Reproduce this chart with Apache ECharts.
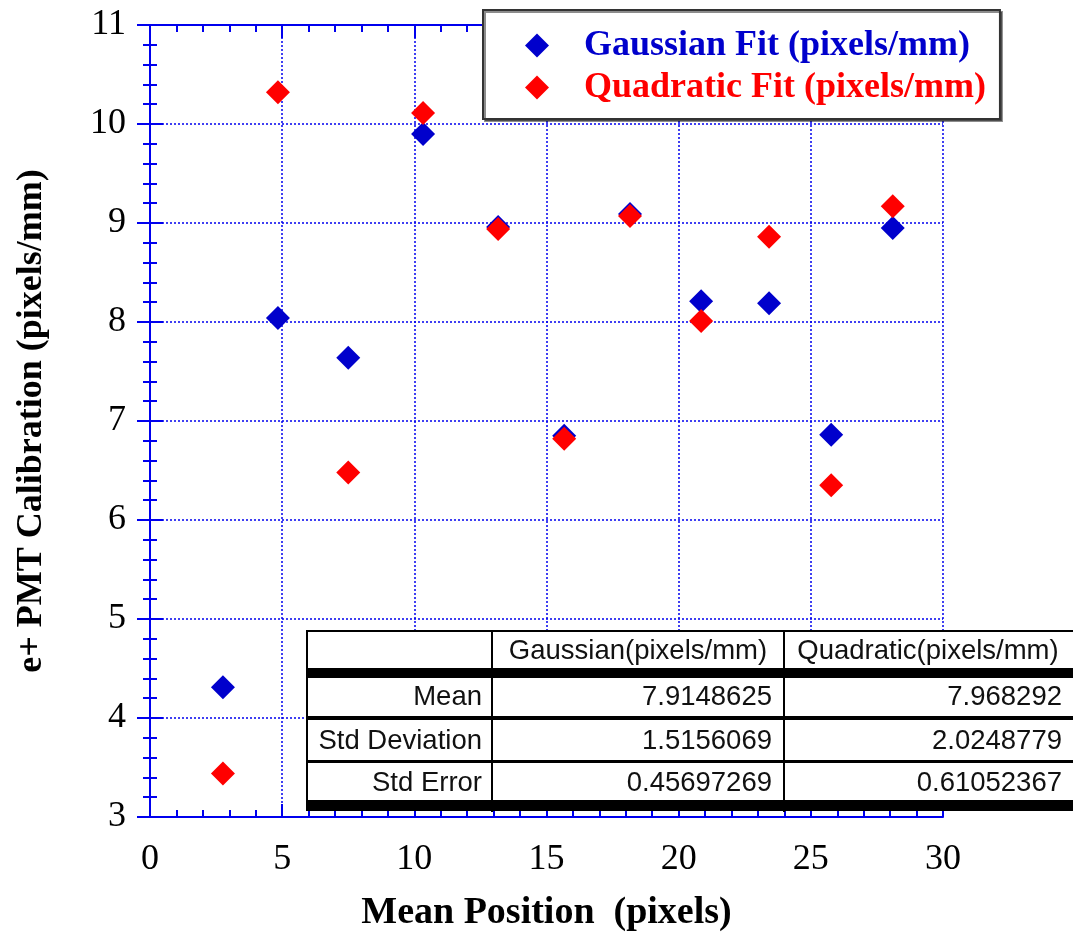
<!DOCTYPE html>
<html><head><meta charset="utf-8">
<script src="https://cdn.jsdelivr.net/npm/echarts@6/dist/echarts.min.js"></script>
<style>html,body{margin:0;padding:0;background:#fff}#c{width:1073px;height:936px}</style>
</head><body><div id="c"></div>
<script>
// ---- data ----
const meanPosition = [2.76, 4.84, 7.5, 10.33, 13.17, 15.67, 18.16, 20.85, 23.42, 25.77, 28.1];
const gaussianFit = [4.31, 8.04, 7.64, 9.90, 8.96, 6.85, 9.09, 8.21, 8.19, 6.86, 8.95];
const quadraticFit = [3.44, 10.32, 6.48, 10.11, 8.94, 6.82, 9.07, 8.01, 8.86, 6.35, 9.17];
const seriesNames = ['Gaussian Fit (pixels/mm)', 'Quadratic Fit (pixels/mm)'];
const xTitle = 'Mean Position  (pixels)';
const yTitle = 'e+ PMT Calibration (pixels/mm)';
const tableHeader = ['Gaussian(pixels/mm)', 'Quadratic(pixels/mm)'];
const tableRowLabels = ['Mean', 'Std Deviation', 'Std Error'];
const tableGaussian = ['7.9148625', '1.5156069', '0.45697269'];
const tableQuadratic = ['7.968292', '2.0248779', '0.61052367'];

// ---- styles ----
const AX = '#0000ee';
const BLUE = '#0000cc';
const RED = '#ff0000';
const SERIF = 'Liberation Serif';
const SANS = 'Liberation Sans';

function axisCommon(showLabel) {
  return {
    axisLine: {show: true, lineStyle: {color: AX, width: 2}},
    axisTick: {show: true, inside: true, length: 13, lineStyle: {color: AX, width: 2}},
    minorTick: {show: true, splitNumber: 5, length: 7, lineStyle: {color: AX, width: 2}},
    axisLabel: {show: showLabel, color: '#000', fontFamily: SERIF, fontSize: 36},
  };
}

const xMain = Object.assign(axisCommon(true), {
  type: 'value', min: 0, max: 30, interval: 5, position: 'bottom',
  name: xTitle, nameLocation: 'middle', nameGap: 77,
  nameTextStyle: {color: '#000', fontFamily: SERIF, fontWeight: 'bold', fontSize: 38},
  splitLine: {show: true, lineStyle: {color: AX, width: 1.5, type: [2, 2]}}
});
xMain.axisLabel.margin = 25;
const xTop = Object.assign(axisCommon(false), {
  type: 'value', min: 0, max: 30, interval: 5, position: 'top', splitLine: {show: false}
});
const yMain = Object.assign(axisCommon(true), {
  type: 'value', min: 3, max: 11, interval: 1, position: 'left',
  name: yTitle, nameLocation: 'middle', nameGap: 100,
  nameTextStyle: {color: '#000', fontFamily: SERIF, fontWeight: 'bold', fontSize: 36},
  splitLine: {show: true, lineStyle: {color: AX, width: 1.5, type: [2, 2]}}
});
yMain.axisLabel.margin = 24;
const yRight = Object.assign(axisCommon(false), {
  type: 'value', min: 3, max: 11, interval: 1, position: 'right', splitLine: {show: false}
});

// ---- table graphic ----
const TX = [307, 492, 784, 1076];
const rowCenters = [697, 741, 783];
const bands = [[668, 678], [716, 720], [760, 763], [800, 810]];
const g = [];
g.push({type: 'rect', z: 50, shape: {x: TX[0], y: 631, width: TX[3] - TX[0], height: 179},
  style: {fill: '#fff', stroke: '#000', lineWidth: 2}});
bands.forEach(b => g.push({type: 'rect', z: 51, shape: {x: TX[0], y: b[0], width: TX[3] - TX[0], height: b[1] - b[0]}, style: {fill: '#000'}}));
[TX[1], TX[2]].forEach(x => g.push({type: 'line', z: 52, shape: {x1: x, y1: 631, x2: x, y2: 812}, style: {stroke: '#000', lineWidth: 2}}));
const tStyle = (txt, x, y, align) => ({type: 'text', z: 53, x: x, y: y,
  style: {text: txt, fill: '#111', font: '27.5px "' + SANS + '"', textAlign: align, textVerticalAlign: 'middle'}});
g.push(tStyle(tableHeader[0], (TX[1] + TX[2]) / 2, 651, 'center'));
g.push(tStyle(tableHeader[1], (TX[2] + 1072) / 2, 651, 'center'));
tableRowLabels.forEach((lab, i) => {
  g.push(tStyle(lab, TX[1] - 10, rowCenters[i], 'right'));
  g.push(tStyle(tableGaussian[i], TX[2] - 12, rowCenters[i], 'right'));
  g.push(tStyle(tableQuadratic[i], 1062, rowCenters[i], 'right'));
});

const chart = echarts.init(document.getElementById('c'), null, {renderer: 'canvas'});
chart.setOption({
  animation: false,
  backgroundColor: '#fff',
  grid: {left: 150, right: 130, top: 25, bottom: 119, containLabel: false, outerBoundsMode: 'none'},
  xAxis: [xMain, xTop],
  yAxis: [yMain, yRight],
  legend: {
    left: 483, top: 10, orient: 'vertical', icon: 'diamond',
    padding: [15, 14, 11, 42], itemGap: 1, itemWidth: 24, itemHeight: 24,
    backgroundColor: '#fff', borderColor: '#333', borderWidth: 2,
    shadowColor: 'rgba(0,0,0,0.45)', shadowOffsetX: 2, shadowOffsetY: 2, shadowBlur: 0,
    textStyle: {fontFamily: SERIF, fontWeight: 'bold', fontSize: 36, lineHeight: 41, padding: [0, 0, 0, 30]},
    data: [
      {name: seriesNames[0], textStyle: {color: BLUE}},
      {name: seriesNames[1], textStyle: {color: RED}}
    ]
  },
  series: [
    {name: seriesNames[0], type: 'scatter', symbol: 'diamond', symbolSize: 24,
     itemStyle: {color: BLUE, opacity: 1}, xAxisIndex: 0, yAxisIndex: 0,
     data: meanPosition.map((x, i) => [x, gaussianFit[i]])},
    {name: seriesNames[1], type: 'scatter', symbol: 'diamond', symbolSize: 24,
     itemStyle: {color: RED, opacity: 1}, xAxisIndex: 0, yAxisIndex: 0,
     data: meanPosition.map((x, i) => [x, quadraticFit[i]])}
  ],
  graphic: g
});
</script>
</body></html>
